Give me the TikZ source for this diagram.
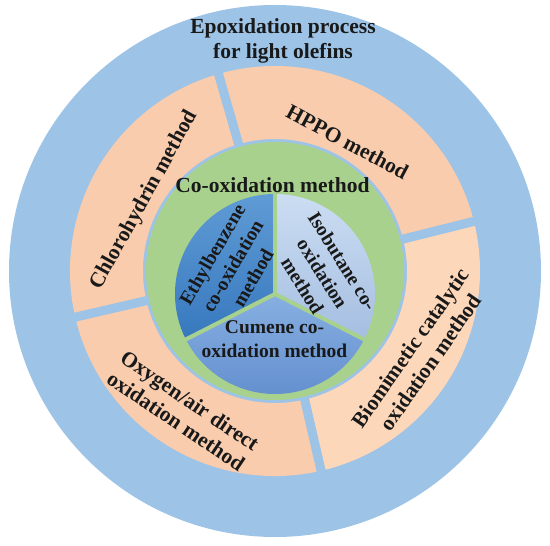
\documentclass[tikz,border=0pt]{standalone}
\usepackage{fontspec}
\setmainfont{Liberation Serif}
\definecolor{outerblue}{RGB}{157,195,230}
\definecolor{peach}{RGB}{248,204,173}
\definecolor{peachlight}{RGB}{252,215,186}
\definecolor{ringgreen}{RGB}{169,209,142}
\definecolor{ethtop}{RGB}{95,155,213}
\definecolor{ethbot}{RGB}{55,120,190}
\definecolor{isotop}{RGB}{203,221,242}
\definecolor{isobot}{RGB}{165,190,225}
\definecolor{cumtop}{RGB}{135,175,225}
\definecolor{cumbot}{RGB}{95,140,205}
\tikzset{
  biglabel/.style={font=\fontsize{21.5}{25}\selectfont\bfseries, align=center, inner sep=0pt, text=black!90},
  pielabel/.style={font=\fontsize{19.5}{23.5}\selectfont\bfseries, align=center, inner sep=0pt, text=black!90},
  gapline/.style={draw=outerblue, line width=9pt},
  pieline/.style={draw=ringgreen, line width=4pt}
}
\begin{document}
\begin{tikzpicture}[x=1pt,y=1pt]
\useasboundingbox (-275,-275) rectangle (275,271);
% outer disc
\fill[outerblue] (0,0) circle[radius=266];
% orange ring sectors
\fill[peach] (14:132) arc[start angle=14,end angle=106,radius=132] -- (106:205) arc[start angle=106,end angle=14,radius=205] -- cycle;
\fill[peach] (106:132) arc[start angle=106,end angle=193,radius=132] -- (193:205) arc[start angle=193,end angle=106,radius=205] -- cycle;
\fill[peach] (193:132) arc[start angle=193,end angle=283,radius=132] -- (283:205) arc[start angle=283,end angle=193,radius=205] -- cycle;
\fill[peachlight] (283:132) arc[start angle=283,end angle=374,radius=132] -- (374:205) arc[start angle=374,end angle=283,radius=205] -- cycle;
% gaps
\coordinate (g1a) at (14:125);  \coordinate (g1b) at (14:212);
\coordinate (g2a) at (106:125); \coordinate (g2b) at (106:212);
\coordinate (g3a) at (193:125); \coordinate (g3b) at (193:212);
\coordinate (g4a) at (283:125); \coordinate (g4b) at (283:212);
\draw[gapline] (g1a) -- (g1b);
\draw[gapline] (g2a) -- (g2b);
\draw[gapline] (g3a) -- (g3b);
\draw[gapline] (g4a) -- (g4b);
% green disc
\fill[ringgreen] (0,0) circle[radius=129];
% pie
\coordinate (pc) at (0,-23);
\path[top color=ethtop, bottom color=ethbot] (pc) -- ++(90:100) arc[start angle=90,end angle=207,radius=100] -- cycle;
\path[top color=cumtop, bottom color=cumbot] (pc) -- ++(207:100) arc[start angle=207,end angle=333,radius=100] -- cycle;
\path[top color=isotop, bottom color=isobot] (pc) -- ++(333:100) arc[start angle=333,end angle=450,radius=100] -- cycle;
\draw[pieline] (pc) -- ++(90:101);
\draw[pieline] (pc) -- ++(207:101);
\draw[pieline] (pc) -- ++(333:101);
% labels
\node[biglabel] (title) at (8,230) {Epoxidation process\\for light olefins};
\node[biglabel] (coox) at (-2.5,86) {Co-oxidation method};
\node[biglabel, rotate=-28] (hppo) at (72.5,129) {HPPO method};
\node[biglabel, rotate=61] (chloro) at (-130.5,71) {Chlorohydrin method};
\node[biglabel, rotate=-34] (oxy) at (-92,-140) {Oxygen/air direct\\oxidation method};
\node[biglabel, rotate=55] (bio) at (145.5,-84) {Biomimetic catalytic\\oxidation method};
\node[pielabel, rotate=60] (eth) at (-42.5,5) {Ethylbenzene\\co-oxidation\\method};
\node[pielabel, rotate=-58] (iso) at (47.5,-2.5) {Isobutane co-\\oxidation\\method};
\node[pielabel] (cum) at (-0.5,-68) {Cumene co-\\oxidation method};
\end{tikzpicture}
\end{document}
